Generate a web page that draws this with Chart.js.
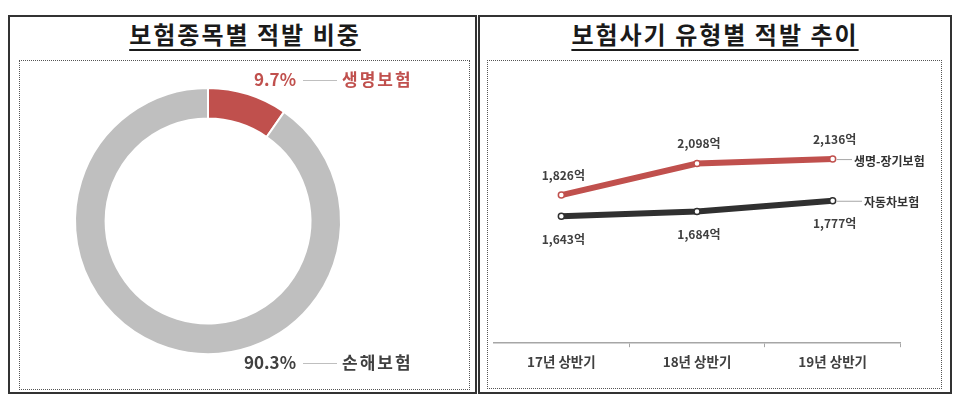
<!DOCTYPE html>
<html>
<head>
<meta charset="utf-8">
<script src="https://cdn.jsdelivr.net/npm/chart.js@4/dist/chart.umd.min.js"></script>
<style>
  html, body { margin: 0; padding: 0; background: #fff; }
  body { width: 962px; height: 410px; position: relative; overflow: hidden;
         font-family: "Noto Sans CJK KR", "Noto Sans", sans-serif; }
  .panel { position: absolute; top: 15px; height: 379px; border: 2px solid #333; box-sizing: border-box; }
  .dots { position: absolute; border: 1px dotted #555; box-sizing: border-box; }
  .title { position: absolute; top: 19px; font-size: 24px; font-weight: 700; color: #1a1a1a; letter-spacing: 2px;
           text-decoration: underline; text-decoration-thickness: 2px; text-underline-offset: 5px;
           transform: translateX(-50%); white-space: nowrap; line-height: 30px; }
  canvas { position: absolute; }
</style>
</head>
<body>
<div class="panel" style="left:8px; width:469px;"></div>
<div class="panel" style="left:478px; width:474px;"></div>
<div class="dots" style="left:19px; top:60px; width:451px; height:330px;"></div>
<div class="dots" style="left:487px; top:60px; width:455px; height:329px;"></div>
<div class="title" style="left:245px;">보험종목별 적발 비중</div>
<div class="title" style="left:715px;">보험사기 유형별 적발 추이</div>

<div style="position:absolute; left:20px; top:62px; width:448px; height:326px;"><canvas id="shareChart"></canvas></div>
<div style="position:absolute; left:488px; top:62px; width:452px; height:326px;"><canvas id="trendChart"></canvas></div>

<script>
// 보험종목별 적발 비중 (%)
const shareLabels = ['생명보험', '손해보험'];
const shareValues = [9.7, 90.3];
const shareColors = ['#c0504d', '#bfbfbf'];
const shareText   = ['#c0504d', '#404040'];

// 보험사기 유형별 적발 추이 (억원)
const periods   = ['17년 상반기', '18년 상반기', '19년 상반기'];
const lifeName  = '생명-장기보험';
const lifeVals  = [1826, 2098, 2136];
const autoName  = '자동차보험';
const autoVals  = [1643, 1684, 1777];

const FONT = '"Noto Sans CJK KR", "Noto Sans", sans-serif';
const won = v => v.toLocaleString('en-US') + '억';

// labels beside the doughnut: "9.7% —— 생명보험"
const shareLabelPlugin = {
  id: 'shareLabels',
  afterDraw(chart) {
    const ctx = chart.ctx;
    const rows = [18, 301];
    ctx.save();
    ctx.font = `bold 17px ${FONT}`;
    ctx.textBaseline = 'middle';
    shareLabels.forEach((name, i) => {
      const y = rows[i];
      ctx.fillStyle = shareText[i];
      ctx.textAlign = 'right';
      ctx.fillText(shareValues[i].toFixed(1) + '%', 276, y);
      ctx.textAlign = 'left';
      ctx.letterSpacing = '2px';
      ctx.fillText(name, 322, y);
      ctx.letterSpacing = '0px';
      ctx.strokeStyle = '#bfbfbf';
      ctx.lineWidth = 1;
      ctx.beginPath(); ctx.moveTo(283, y + 0.5); ctx.lineTo(317, y + 0.5); ctx.stroke();
    });
    ctx.restore();
  },
};

new Chart(document.getElementById('shareChart'), {
  type: 'doughnut',
  data: {
    labels: shareLabels,
    datasets: [{ data: shareValues, backgroundColor: shareColors, borderColor: '#fff', borderWidth: 2 }],
  },
  options: {
    responsive: true, maintainAspectRatio: false, animation: false,
    cutout: '77%',
    layout: { padding: { left: 54, right: 126, top: 25, bottom: 33 } },
    plugins: { legend: { display: false }, tooltip: { enabled: false } },
  },
  plugins: [shareLabelPlugin],
});

// value labels and series names for the line chart
const trendLabelPlugin = {
  id: 'trendLabels',
  afterDatasetsDraw(chart) {
    const ctx = chart.ctx;
    ctx.save();
    ctx.textBaseline = 'middle';
    chart.data.datasets.forEach((ds, di) => {
      const meta = chart.getDatasetMeta(di);
      ctx.font = `bold 12px ${FONT}`;
      ctx.fillStyle = '#404040';
      ctx.textAlign = 'center';
      meta.data.forEach((pt, i) => {
        const dy = di === 0 ? -20 : 23;
        ctx.fillText(won(ds.data[i]), pt.x + 2, pt.y + dy);
      });
      const last = meta.data[meta.data.length - 1];
      const end = di === 0 ? 364 : 374;
      ctx.strokeStyle = '#a6a6a6';
      ctx.lineWidth = 1;
      ctx.beginPath(); ctx.moveTo(last.x + 4, last.y + 0.5); ctx.lineTo(end, last.y + 0.5); ctx.stroke();
      ctx.textAlign = 'left';
      ctx.fillStyle = '#333';
      ctx.fillText(ds.label, end + 2, last.y + 2);
    });
    ctx.restore();
  },
};

new Chart(document.getElementById('trendChart'), {
  type: 'line',
  data: {
    labels: periods,
    datasets: [
      { label: lifeName, data: lifeVals, borderColor: '#c0504d', borderWidth: 6,
        pointRadius: 3, pointBorderWidth: 1.5, pointBackgroundColor: '#fff', pointBorderColor: '#c0504d' },
      { label: autoName, data: autoVals, borderColor: '#303030', borderWidth: 6,
        pointRadius: 3, pointBorderWidth: 1.5, pointBackgroundColor: '#fff', pointBorderColor: '#303030' },
    ],
  },
  options: {
    responsive: true, maintainAspectRatio: false, animation: false,
    layout: { padding: { left: 1.5, right: 39.5, top: 20, bottom: 10.6 } },
    plugins: { legend: { display: false }, tooltip: { enabled: false } },
    scales: {
      x: {
        offset: true,
        grid: { offset: true, drawOnChartArea: false, tickLength: 4,
                color: c => (c.index === 0 || c.index === periods.length) ? 'rgba(0,0,0,0)' : '#a6a6a6' },
        border: { color: '#a6a6a6', width: 1.5 },
        ticks: { padding: 7, color: '#404040', font: { family: FONT, size: 13.5, weight: 'bold' } },
      },
      y: { display: false, min: 550, max: 2800 },
    },
  },
  plugins: [trendLabelPlugin],
});
</script>
</body>
</html>
